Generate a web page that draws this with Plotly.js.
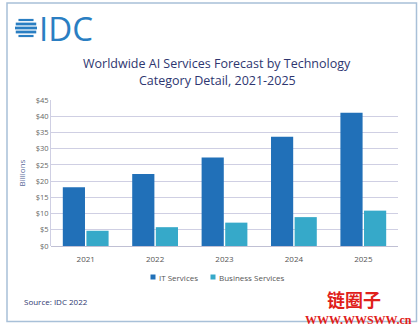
<!DOCTYPE html>
<html><head><meta charset="utf-8">
<script src="https://cdn.plot.ly/plotly-3.0.1.min.js"></script>
<style>html,body{margin:0;padding:0;background:#fff;}#chart{width:420px;height:328px;}</style>
</head><body><div id="chart"></div>
<script>
const years = ['2021','2022','2023','2024','2025'];
const itServices = [18.1, 22.2, 27.3, 33.7, 41.1];
const businessServices = [4.7, 5.8, 7.2, 8.9, 10.9];
const yTickVals = [0,5,10,15,20,25,30,35,40,45];
const yTickText = ['$0','$5','$10','$15','$20','$25','$30','$35','$40','$45'];
const seriesNames = ['IT Services','Business Services'];
const seriesColors = ['#2170b8','#36a9c9'];
const titleLines = ['Worldwide AI Services Forecast by Technology','Category Detail, 2021-2025'];

const L=51, R=398, T=100, B=246;
const px = x => (x-L)/(R-L);
const py = y => (B-y)/(B-T);

const shapes = [{type:'rect',xref:'paper',yref:'paper',x0:px(7),x1:px(416.5),y0:py(321.5),y1:py(3),
  line:{color:'#a8c0d8',width:1.5},fillcolor:'rgba(0,0,0,0)',layer:'below'}];
// IDC globe logo stripes
const cx=26, cy=28, r=11;
[-9,-5,-1,3,7].forEach((dy,i)=>{
  const yc=cy+dy+1; const hw=Math.sqrt(Math.max(0,r*r-(dy+1)*(dy+1)));
  shapes.push({type:'line',xref:'paper',yref:'paper',x0:px(cx-hw),x1:px(cx+hw),y0:py(yc),y1:py(yc),
    line:{color:'#2a7ec2',width:(i==0||i==4)?2.2:2.8}});
});
// custom legend squares
const legendX = [153, 213];
legendX.forEach((x,i)=>{
  shapes.push({type:'rect',xref:'paper',yref:'paper',x0:px(x-2.5),x1:px(x+2.5),y0:py(279.5),y1:py(274.5),
    line:{width:0},fillcolor:seriesColors[i]});
});

const data = [
 {type:'bar',name:seriesNames[0],x:years,y:itServices,marker:{color:seriesColors[0]}},
 {type:'bar',name:seriesNames[1],x:years,y:businessServices,marker:{color:seriesColors[1]}}
];
const annotations = [
  {text:titleLines[0],xref:'paper',yref:'paper',x:px(217),y:py(63),xanchor:'center',yanchor:'middle',showarrow:false,
   font:{size:12.5,color:'#2e3670'}},
  {text:titleLines[1],xref:'paper',yref:'paper',x:px(217),y:py(81),xanchor:'center',yanchor:'middle',showarrow:false,
   font:{size:12.5,color:'#2e3670'}},
  {text:'IDC',xref:'paper',yref:'paper',x:px(37),y:py(28),xanchor:'left',yanchor:'middle',showarrow:false,
   font:{size:33,color:'#2a7ec2',family:'Open Sans, sans-serif'}},
  {text:'Source: IDC 2022',xref:'paper',yref:'paper',x:px(22),y:py(301),xanchor:'left',yanchor:'middle',showarrow:false,
   font:{size:8,color:'#2e3670'}},
  {text:'<b>链圈子</b>',xref:'paper',yref:'paper',x:px(354),y:py(299),xanchor:'center',yanchor:'middle',showarrow:false,
   font:{size:18,color:'#e0201a',family:'Noto Sans CJK SC'}},
  {text:'<b>WWW.WWSWW.cn</b>',xref:'paper',yref:'paper',x:px(358),y:py(320),xanchor:'center',yanchor:'middle',showarrow:false,
   font:{size:12,color:'#e0201a',family:'Liberation Serif, serif'}}
];
legendX.forEach((x,i)=>{
  annotations.push({text:seriesNames[i],xref:'paper',yref:'paper',x:px(x+4),y:py(277),xanchor:'left',yanchor:'middle',
    showarrow:false,font:{size:8,color:'#555'}});
});
const layout = {
 width:420,height:328,margin:{l:L,r:420-R,t:T,b:328-B},
 paper_bgcolor:'#fff',plot_bgcolor:'#fff',
 font:{family:'Open Sans, sans-serif',color:'#555'},
 barmode:'group',bargap:0.32,bargroupgap:0.06,showlegend:false,
 xaxis:{tickfont:{size:8,color:'#555'},showline:false,ticks:'',ticklabelstandoff:7,fixedrange:true},
 yaxis:{range:[0,45],tickvals:yTickVals,ticktext:yTickText,tickfont:{size:7.5,color:'#666'},
   gridcolor:'#cfcfe3',gridwidth:1,showline:true,linecolor:'#cfcfe3',zeroline:true,zerolinecolor:'#c0c0d4',
   ticks:'',ticklen:0,
   title:{text:'Billions',font:{size:8,color:'#5a6a9a'},standoff:8}},
 shapes:shapes,
 annotations:annotations
};
Plotly.newPlot('chart',data,layout,{displayModeBar:false,staticPlot:true});
</script></body></html>
